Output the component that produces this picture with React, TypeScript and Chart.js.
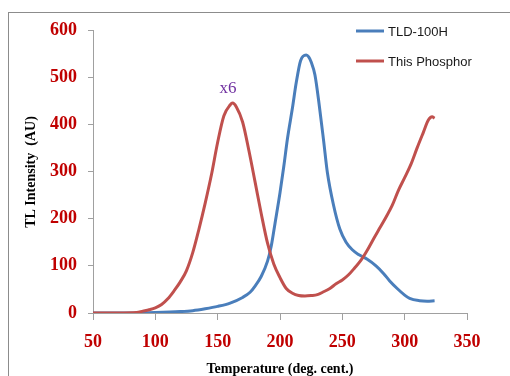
import React, { useEffect, useRef } from "react";
import { Chart, registerables } from "chart.js";

Chart.register(...registerables);

const redTemps = [50, 70, 85, 90, 95, 100, 105, 110, 115, 120, 125, 130, 135, 140, 145, 150, 155, 160, 162, 165, 170, 175, 180, 185, 190, 195, 200, 205, 210, 215, 220, 225, 230, 235, 240, 245, 250, 255, 260, 265, 270, 275, 280, 285, 290, 295, 300, 305, 310, 315, 319, 322, 324];
const redValues = [0, 0, 1, 4, 7, 11, 18, 30, 47, 66, 90, 128, 178, 233, 293, 362, 418, 441, 445, 437, 405, 345, 278, 210, 148, 104, 75, 52, 42, 37, 36, 37, 39, 45, 52, 62, 70, 81, 96, 112, 133, 157, 180, 203, 228, 260, 287, 315, 350, 383, 409, 416, 413];

const blueTemps = [50, 80, 100, 120, 130, 140, 150, 160, 170, 176, 180, 185, 190, 193, 196, 200, 203, 206, 210, 213, 216.5, 221, 223, 225, 228, 231.5, 235, 238, 243, 248, 253, 258, 263, 270, 277, 283, 288, 294, 300, 304, 312, 318, 324];
const blueValues = [0, 0, 1, 3, 5, 9, 14, 21, 33, 44, 57, 78, 110, 142, 190, 255, 310, 370, 435, 488, 535, 547, 543, 532, 505, 440, 365, 298, 228, 178, 150, 134, 124, 114, 100, 84, 68, 52, 38, 31, 26, 25, 26];

const xTicks = [50, 100, 150, 200, 250, 300, 350];
const yTicks = [0, 100, 200, 300, 400, 500, 600];

const seriesNames = ["TLD-100H", "This Phosphor"];
const seriesColors = ["#4A7EBB", "#C0504D"];

export default function App() {
  const ref = useRef<HTMLCanvasElement>(null);
  useEffect(() => {
    const ctx = ref.current!;
    const overlay = {
      id: "overlay",
      afterDraw(chart: any) {
        const c = chart.ctx;
        c.save();
        // legend
        c.font = "13px 'Liberation Sans', Arial, sans-serif";
        c.textBaseline = "middle";
        c.textAlign = "left";
        const ly = [31, 61];
        for (let i = 0; i < 2; i++) {
          c.strokeStyle = seriesColors[i];
          c.lineWidth = 3;
          c.beginPath();
          c.moveTo(356, ly[i]);
          c.lineTo(384, ly[i]);
          c.stroke();
          c.fillStyle = "#1a1a1a";
          c.fillText(seriesNames[i], 388, ly[i] + 1);
        }
        // annotation
        c.font = "17px 'Liberation Serif', 'Times New Roman', serif";
        c.fillStyle = "#7030A0";
        c.textAlign = "center";
        c.fillText("x6", 228, 89);
        // axis titles
        c.fillStyle = "#000";
        c.font = "bold 14px 'Liberation Serif', 'Times New Roman', serif";
        c.fillText("Temperature (deg. cent.)", 280, 369);
        c.translate(31, 172);
        c.rotate(-Math.PI / 2);
        c.fillText("TL Intensity  (AU)", 0, 0);
        c.restore();
      },
    };
    const tickFont = { family: "'Liberation Serif', 'Times New Roman', serif", size: 18, weight: "bold" as const };
    const chart = new Chart(ctx, {
      type: "scatter",
      data: {
        datasets: [
          {
            label: seriesNames[0],
            data: blueTemps.map((t, i) => ({ x: t, y: blueValues[i] })),
            showLine: true,
            borderColor: seriesColors[0],
            borderWidth: 3,
            pointRadius: 0,
            cubicInterpolationMode: "monotone",
            order: 1,
          },
          {
            label: seriesNames[1],
            data: redTemps.map((t, i) => ({ x: t, y: redValues[i] })),
            showLine: true,
            borderColor: seriesColors[1],
            borderWidth: 3,
            pointRadius: 0,
            cubicInterpolationMode: "monotone",
            order: 0,
          },
        ],
      },
      options: {
        animation: false,
        responsive: false,
        layout: { padding: { left: 0, right: 43, top: 30, bottom: 0 } },
        plugins: { legend: { display: false }, tooltip: { enabled: false } },
        scales: {
          x: {
            type: "linear",
            min: 50,
            max: 350,
            afterBuildTicks: (s: any) => { s.ticks = xTicks.map((v) => ({ value: v })); },
            afterFit: (s: any) => { s.height = 376 - 313; },
            grid: { drawOnChartArea: false, drawTicks: true, tickLength: 7, color: "#A0A0A0" },
            border: { color: "#A0A0A0", width: 1 },
            ticks: { color: "#C00000", font: tickFont, padding: 12, maxRotation: 0 },
          },
          y: {
            type: "linear",
            min: 0,
            max: 600,
            afterBuildTicks: (s: any) => { s.ticks = yTicks.map((v) => ({ value: v })); },
            afterFit: (s: any) => { s.width = 93; },
            grid: { drawOnChartArea: false, drawTicks: true, tickLength: 5, color: "#A0A0A0" },
            border: { color: "#A0A0A0", width: 1 },
            ticks: { color: "#C00000", font: tickFont, padding: 11 },
          },
        },
      },
      plugins: [overlay],
    });
    return () => chart.destroy();
  }, []);
  return (
    <>
      <div style={{ position: "fixed", left: 8, top: 12, width: 520, height: 400, border: "1px solid #8C8C8C", boxSizing: "border-box" }} />
      <canvas ref={ref} width={510} height={376} style={{ position: "fixed", left: 0, top: 0, width: 510, height: 376 }} />
    </>
  );
}
